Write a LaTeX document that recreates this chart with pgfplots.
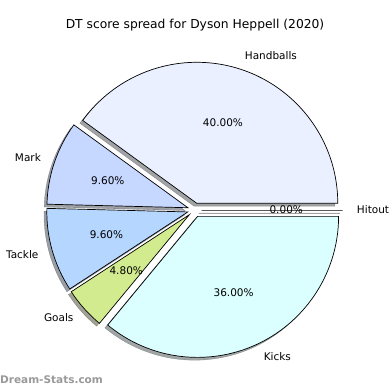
\documentclass[border=0pt]{standalone}
\usepackage{pgfplots}
\usepackage{pgfplotstable}
\usepackage{fontspec}
\setmainfont{DejaVu Sans}
\pgfplotsset{compat=1.18}
\definecolor{cHit}{HTML}{F0F0F0}
\definecolor{cHand}{HTML}{EAF0FF}
\definecolor{cMark}{HTML}{C6D8FF}
\definecolor{cTack}{HTML}{B5D6FF}
\definecolor{cGoal}{HTML}{D2EB8E}
\definecolor{cKick}{HTML}{DBFFFF}
\definecolor{wm}{HTML}{999999}
\pgfplotstableread{
label value color
Hitout 0 cHit
Handballs 40 cHand
Mark 9.6 cMark
Tackle 9.6 cTack
Goals 4.8 cGoal
Kicks 36 cKick
}\piedata
\newcommand\lblfont{\fontsize{10.5bp}{12bp}\selectfont}
\begin{document}
\begin{tikzpicture}
\begin{axis}[hide axis, x=141bp, y=141bp, xmin=-1.3801, xmax=1.3858, ymin=-1.2766, ymax=1.4894, clip=false, scale only axis]
\path (axis cs:-1.3801,-1.2766) rectangle (axis cs:1.3858,1.4894);
% shadows
\pgfmathsetmacro{\cum}{0}
\pgfplotsforeachungrouped \i in {0,...,5}{%
  \pgfplotstablegetelem{\i}{value}\of\piedata \let\val\pgfplotsretval
  \pgfplotstablegetelem{\i}{color}\of\piedata \let\col\pgfplotsretval
  \pgfmathsetmacro{\aone}{\cum*3.6}%
  \pgfmathsetmacro{\atwo}{(\cum+\val)*3.6}%
  \pgfmathsetmacro{\amid}{(\aone+\atwo)/2}%
  \pgfmathsetmacro{\ex}{0.05*cos(\amid)-0.02}%
  \pgfmathsetmacro{\ey}{0.05*sin(\amid)-0.02}%
  \edef\tmp{\noexpand\filldraw[fill=\col!30!black, draw=\col!30!black, line width=0.3bp, opacity=0.5] (axis cs:\ex,\ey) -- ++(\aone:141bp) arc[start angle=\aone, end angle=\atwo, radius=141bp] -- cycle;}%
  \tmp
  \pgfmathsetmacro{\cum}{\cum+\val}%
}
% wedges
\pgfmathsetmacro{\cum}{0}
\pgfplotsforeachungrouped \i in {0,...,5}{%
  \pgfplotstablegetelem{\i}{value}\of\piedata \let\val\pgfplotsretval
  \pgfplotstablegetelem{\i}{color}\of\piedata \let\col\pgfplotsretval
  \pgfplotstablegetelem{\i}{label}\of\piedata \let\lab\pgfplotsretval
  \pgfmathsetmacro{\aone}{\cum*3.6}%
  \pgfmathsetmacro{\atwo}{(\cum+\val)*3.6}%
  \pgfmathsetmacro{\amid}{(\aone+\atwo)/2}%
  \pgfmathsetmacro{\ex}{0.05*cos(\amid)}%
  \pgfmathsetmacro{\ey}{0.05*sin(\amid)}%
  \pgfmathsetmacro{\lx}{1.15*cos(\amid)}%
  \pgfmathsetmacro{\ly}{1.15*sin(\amid)}%
  \pgfmathsetmacro{\px}{0.65*cos(\amid)}%
  \pgfmathsetmacro{\py}{0.65*sin(\amid)}%
  \pgfmathparse{cos(\amid)>0 ? 1 : 0}%
  \ifnum\pgfmathresult=1 \def\anch{west}\else\def\anch{east}\fi
  \edef\tmp{\noexpand\filldraw[fill=\col, draw=black, line width=0.7bp, line join=miter] (axis cs:\ex,\ey) -- ++(\aone:141bp) arc[start angle=\aone, end angle=\atwo, radius=141bp] -- cycle;
  \noexpand\node[anchor=\anch, inner sep=0pt, font=\noexpand\lblfont] at (axis cs:\lx,\ly) {\lab};
  \noexpand\node[anchor=center, inner sep=0pt, font=\noexpand\lblfont] at (axis cs:\px,\py) {\noexpand\pgfmathprintnumber[fixed,fixed zerofill,precision=2,assume math mode=true]{\val}\noexpand\%};}%
  \tmp
  \pgfmathsetmacro{\cum}{\cum+\val}%
}
\node[font=\fontsize{12.3bp}{14bp}\selectfont, inner sep=0pt] at (axis cs:0.003,1.312) {DT score spread for Dyson Heppell (2020)};
\node[anchor=west, inner sep=0pt, text=wm, font=\fontsize{10.5bp}{12bp}\selectfont\bfseries] at (axis cs:-1.3801,-1.2057) {Dream-Stats.com};
\end{axis}
\end{tikzpicture}
\end{document}
